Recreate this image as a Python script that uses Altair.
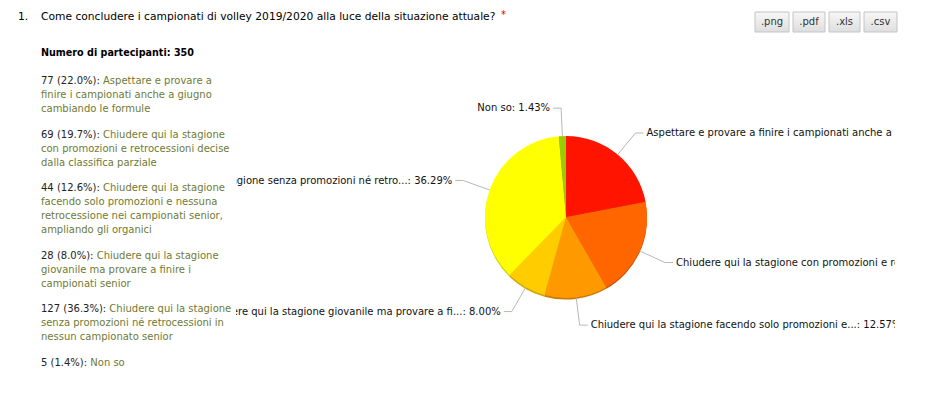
import altair as alt
import pandas as pd

# ---------------- data ----------------
categories = [
    "Aspettare e provare a finire i campionati anche a giugno cambiando le formule",
    "Chiudere qui la stagione con promozioni e retrocessioni decise dalla classifica parziale",
    "Chiudere qui la stagione facendo solo promozioni e nessuna retrocessione nei campionati senior, ampliando gli organici",
    "Chiudere qui la stagione giovanile ma provare a finire i campionati senior",
    "Chiudere qui la stagione senza promozioni né retrocessioni in nessun campionato senior",
    "Non so",
]
counts = [77, 69, 44, 28, 127, 5]
slice_colors = ["#ff1400", "#ff6600", "#ff9900", "#ffcc00", "#ffff00", "#99cc00"]
shadow_colors = ["#c41000", "#c85000", "#cc7a00", "#d0a400", "#d0d000", "#78a000"]
question_no = "1."
question = "Come concludere i campionati di volley 2019/2020 alla luce della situazione attuale?"
participants_label = "Numero di partecipanti: 350"
buttons = [".png", ".pdf", ".xls", ".csv"]
# words per wrapped line in the left panel (first line follows the prefix)
panel_breaks = [[4, 6, 3], [4, 5, 3], [4, 5, 4, 3], [4, 6, 2], [4, 5, 3], [2]]

# ---------------- layout ----------------
W, H = 928, 395
FONT = "DejaVu Sans"
FS = 10
CX, CY, R = 566, 217, 81
R_ELBOW = 109
TEXT_DARK = "#222222"
TEXT_GREEN = "#6f7a33"

total = sum(counts)
pie_df = pd.DataFrame({"cat": categories, "count": counts, "idx": list(range(len(counts)))})

# char widths (em) of DejaVu Sans for the prefix characters
cw = {" ": 0.318, "(": 0.390, ")": 0.390, ".": 0.318, "%": 0.950, ":": 0.337}
for d in "0123456789":
    cw[d] = 0.636

rows = []
y = 81.0
PX = 41
for cat, n, brk in zip(categories, counts, panel_breaks):
    prefix = f"{n} ({n / total * 100:.1f}%):"
    pw = sum(cw[c] for c in prefix + " ") * FS
    words = cat.split(" ")
    pos = 0
    rows.append({"text": prefix, "x": PX, "y": y, "kind": "prefix"})
    for j, k in enumerate(brk):
        line = " ".join(words[pos:pos + k])
        pos += k
        rows.append({"text": line, "x": PX + (pw if j == 0 else 0), "y": y + 14 * j, "kind": "body"})
    y += 14 * len(brk) + 11.6
panel_df = pd.DataFrame(rows)

bx0 = [755, 793, 829, 864]
bx1 = [789, 825, 860, 897]
btn_df = pd.DataFrame({"label": buttons, "x0": bx0, "x1": bx1})
btn_df["xc"] = (btn_df["x0"] + btn_df["x1"]) / 2

XN = lambda f: alt.X(f, type="quantitative", scale=None, axis=None)
YN = lambda f: alt.Y(f, type="quantitative", scale=None, axis=None)

# ---------------- pie ----------------
shadow = alt.Chart(pie_df).transform_calculate(cat_s="datum.cat").mark_arc(outerRadius=R).encode(
    theta=alt.Theta("count:Q", stack=True),
    color=alt.Color("cat_s:N", scale=alt.Scale(domain=categories, range=shadow_colors), legend=None),
    order=alt.Order("idx:Q"),
    x=alt.value(CX),
    y=alt.value(CY + 1.6),
)
pie = alt.Chart(pie_df).mark_arc(outerRadius=R).encode(
    theta=alt.Theta("count:Q", stack=True),
    color=alt.Color("cat:N", scale=alt.Scale(domain=categories, range=slice_colors), legend=None),
    order=alt.Order("idx:Q"),
    x=alt.value(CX),
    y=alt.value(CY),
)
pie_layer = alt.layer(shadow, pie).resolve_scale(color="independent", theta="independent")

base = (
    alt.Chart(pie_df)
    .transform_joinaggregate(total="sum(count)")
    .transform_window(cum="sum(count)", sort=[alt.SortField("idx", order="ascending")], frame=[None, 0])
    .transform_calculate(mid="(datum.cum - datum.count / 2) / datum.total * 2 * PI")
    .transform_calculate(
        ex=f"{CX} + {R} * sin(datum.mid)",
        ey=f"{CY} - {R} * cos(datum.mid)",
        bx=f"{CX} + {R_ELBOW} * sin(datum.mid)",
        by=f"{CY} - {R_ELBOW} * cos(datum.mid)",
        side="sin(datum.mid) >= 0 ? 1 : -1",
        label="(length(datum.cat) > 50 ? substring(datum.cat, 0, 50) + '...' : datum.cat) + ': ' + format(datum.count / datum.total * 100, '.2f') + '%'",
    )
    .transform_calculate(hx="datum.bx + 8 * datum.side", tx="datum.bx + 11 * datum.side")
)
seg1 = base.mark_rule(color="#b8b8b8", strokeWidth=1).encode(
    x=XN("ex"), y=YN("ey"), x2="bx:Q", y2="by:Q"
)
seg2 = base.mark_rule(color="#b8b8b8", strokeWidth=1).encode(
    x=XN("bx"), y=YN("by"), x2="hx:Q", y2="by:Q"
)
lab_r = base.transform_filter("datum.side > 0").mark_text(
    align="left", baseline="middle", font=FONT, fontSize=FS, color="#111111"
).encode(x=XN("tx"), y=YN("by"), text="label:N")
lab_l = base.transform_filter("datum.side < 0").mark_text(
    align="right", baseline="middle", font=FONT, fontSize=FS, color="#111111"
).encode(x=XN("tx"), y=YN("by"), text="label:N")

# clipping of the chart area
clip_df = pd.DataFrame({"x0": [0, 895], "x1": [236, W], "y0": [60, 100], "y1": [H, 360]})
clip = alt.Chart(clip_df).mark_rect(color="white").encode(
    x=XN("x0"), x2="x1:Q", y=YN("y0"), y2="y1:Q"
)

# ---------------- left panel ----------------
prefix_txt = alt.Chart(panel_df).transform_filter("datum.kind == 'prefix'").mark_text(
    align="left", baseline="middle", font=FONT, fontSize=FS, color=TEXT_DARK
).encode(x=XN("x"), y=YN("y"), text="text:N")
body_txt = alt.Chart(panel_df).transform_filter("datum.kind == 'body'").mark_text(
    align="left", baseline="middle", font=FONT, fontSize=FS, color=TEXT_GREEN
).encode(x=XN("x"), y=YN("y"), text="text:N")

head_df = pd.DataFrame({"text": [question_no, question], "x": [18, 41], "y": [17, 17]})
head = alt.Chart(head_df).mark_text(
    align="left", baseline="middle", font=FONT, fontSize=10.7, color="#000000"
).encode(x=XN("x"), y=YN("y"), text="text:N")
star = alt.Chart(pd.DataFrame({"t": ["*"]})).mark_text(
    align="left", baseline="middle", font=FONT, fontSize=FS, color="#dd0000"
).encode(x=alt.value(501), y=alt.value(15), text="t:N")
part = alt.Chart(pd.DataFrame({"t": [participants_label]})).mark_text(
    align="left", baseline="middle", font=FONT, fontSize=9.6, fontWeight="bold", color="#000000"
).encode(x=alt.value(41), y=alt.value(53), text="t:N")

# ---------------- buttons ----------------
btn_rect = alt.Chart(btn_df).mark_rect(
    color=alt.Gradient(
        gradient="linear",
        stops=[alt.GradientStop(color="#f7f7f7", offset=0), alt.GradientStop(color="#dedede", offset=1)],
        x1=0, x2=0, y1=0, y2=1,
    ),
    stroke="#c4c4c4",
    strokeWidth=1,
).encode(x=XN("x0"), x2="x1:Q", y=alt.value(12), y2=alt.value(32))
btn_txt = alt.Chart(btn_df).mark_text(
    align="center", baseline="middle", font=FONT, fontSize=FS, color="#333333"
).encode(x=XN("xc"), y=alt.value(22), text="label:N")

chart = alt.layer(
    pie_layer, seg1, seg2, lab_r, lab_l, clip,
    prefix_txt, body_txt, head, star, part, btn_rect, btn_txt,
).resolve_scale(color="independent").properties(
    width=W, height=H, padding=0,
    autosize=alt.AutoSizeParams(type="none"),
    background="white",
).configure_view(stroke=None)

chart.save("out.html", embed_options={"renderer": "svg", "actions": False})
